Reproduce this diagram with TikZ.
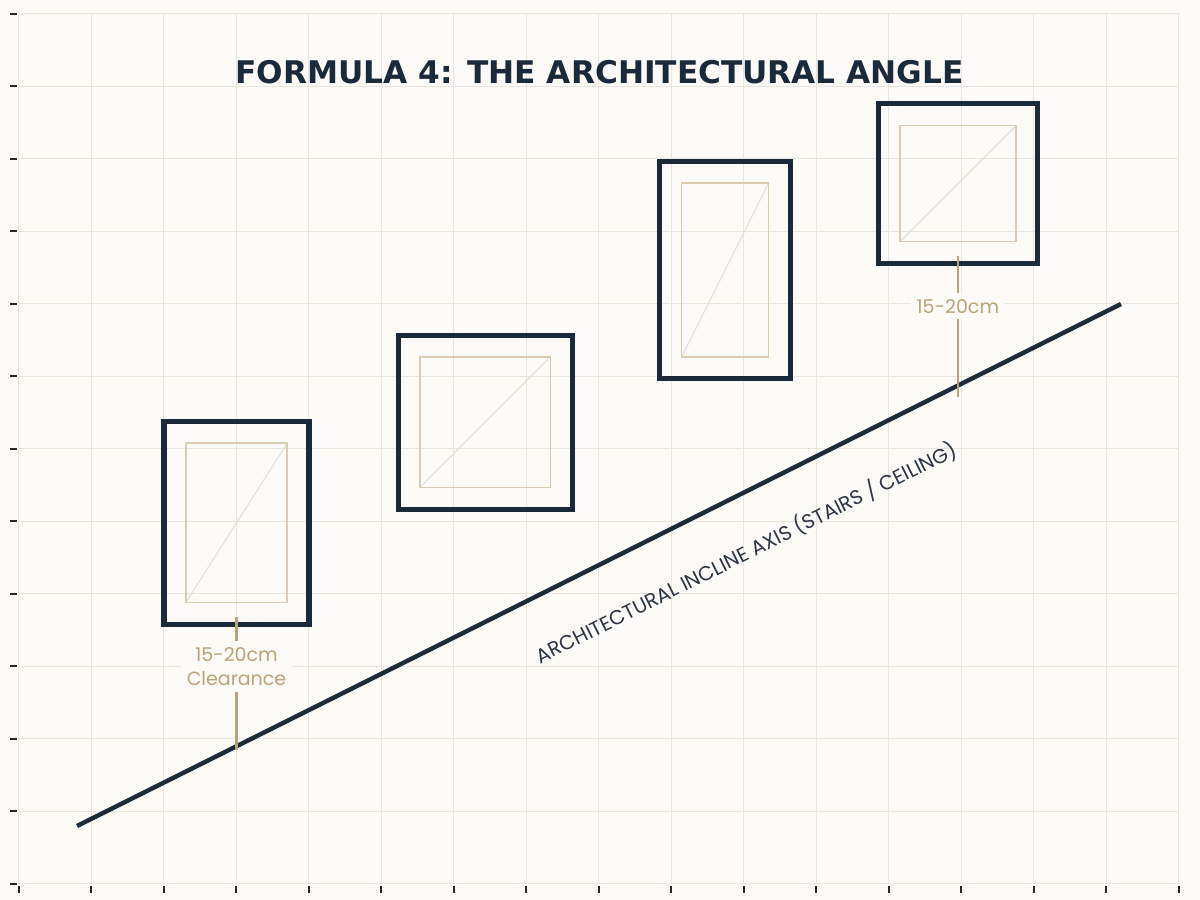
\documentclass[tikz,border=0pt]{standalone}
\usepackage{fontspec}
\setmainfont{Poppins}
\newfontfamily\titlefont{DejaVu Sans}
\usetikzlibrary{calc}
\definecolor{paper}{HTML}{FBFAF7}
\definecolor{gridgray}{HTML}{E8E4DE}
\definecolor{navy}{HTML}{1B2A3A}
\definecolor{tan}{HTML}{B9A479}
\definecolor{mattan}{HTML}{D8CBB1}
\definecolor{diaggray}{HTML}{E4E1DC}
\definecolor{slate}{HTML}{2C3644}
\begin{document}
\begin{tikzpicture}
                [
                    x=36.25pt,y=36.25pt,
                    gridline/.style={draw=gridgray,line width=0.5pt},
                    tick/.style={draw=black!85,line width=1pt},
                    frame/.style 2 args={rectangle,draw=navy,line width=2.6pt,inner sep=0,outer sep=0,
                        minimum width=#1*36.25pt,minimum height=#2*36.25pt},
                    mat/.style={draw=mattan,line width=0.8pt},
                    diag/.style={draw=diaggray,line width=0.6pt},
                    incline/.style={draw=navy,line width=2.2pt},
                    gap/.style={draw=tan,line width=1.2pt},
                    gaplabel/.style={fill=paper,text=tan,align=center,inner sep=3pt,
                        font=\fontsize{9.5}{12}\selectfont},
                    axislabel/.style={text=slate,inner sep=0,font=\fontsize{10.1}{12}\selectfont},
                ]
                \fill[paper] (-0.262,-0.2207) rectangle (16.29,12.193);
                \useasboundingbox (-0.262,-0.2207) rectangle (16.29,12.193);
                \foreach \i in {0,...,16}
                    \draw[gridline] (\i,0) -- (\i,12);
                \foreach \j in {0,...,12}
                    \draw[gridline] (0,\j) -- (16,\j);
                \foreach \i in {0,...,16}
                    \draw[tick] (\i,-0.03) -- (\i,-0.13);
                \foreach \j in {0,...,12}
                    \draw[tick] (-0.03,\j) -- (-0.13,\j);
                \node[text=navy,font=\titlefont\bfseries\fontsize{15.6}{18}\selectfont] (title) at (8.01,11.2)
                    {FORMULA 4: THE ARCHITECTURAL ANGLE};
                \foreach \n/\x/\y/\w/\h in {1/3.0/4.98/2.0/2.8,2/6.43/6.37/2.4/2.4,3/9.74/8.47/1.8/3.0,4/12.95/9.66/2.2/2.2}
                {
                    \node[frame={\w}{\h}] (f\n) at (\x,\y) {};
                    \coordinate (m\n) at ($(f\n.south west)+(0.3,0.3)$);
                    \coordinate (n\n) at ($(f\n.north east)-(0.3,0.3)$);
                    \draw[diag] (m\n) -- (n\n);
                    \draw[mat] (m\n) rectangle (n\n);
                }
                \coordinate (a0) at (0.8,0.8);
                \coordinate (a1) at (15.2,8.0);
                \draw[incline] (a0) -- (a1);
                \node[axislabel,rotate=26.57] (axis) at (10.03,4.57)
                    {ARCHITECTURAL INCLINE AXIS (STAIRS / CEILING)};
                \coordinate (g1) at (3.0,1.85);
                \coordinate (g4) at (12.95,6.72);
                \draw[gap] ($(f1.south)+(0,0.1)$) -- (g1);
                \draw[gap] ($(f4.south)+(0,0.1)$) -- (g4);
                \node[gaplabel] (c1) at (3.0,3.0) {15-20cm\\Clearance};
                \node[gaplabel] (c4) at (12.95,7.97) {15-20cm};
            \end{tikzpicture}
\end{document}
